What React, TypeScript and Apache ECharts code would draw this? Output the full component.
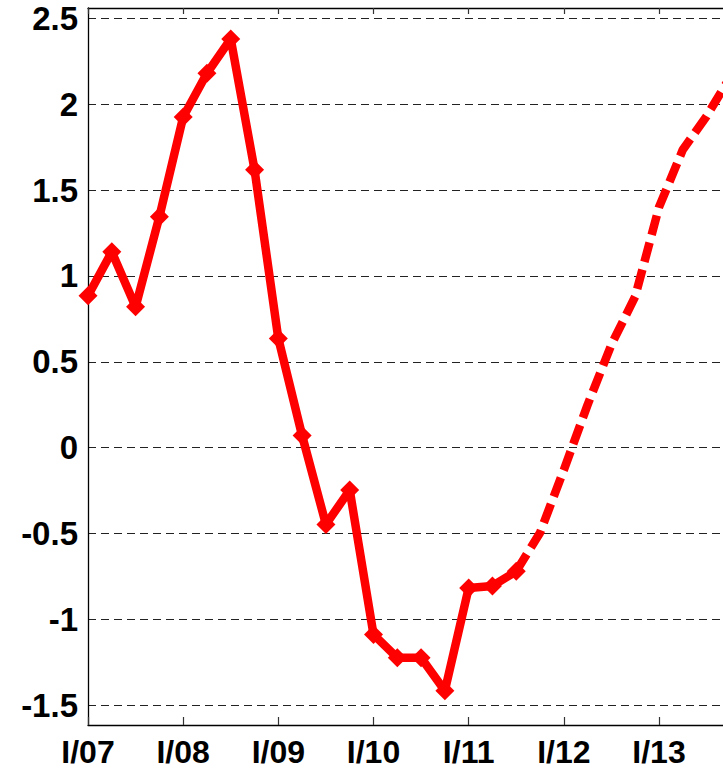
import React, { useEffect, useRef } from "react";
import * as echarts from "echarts";

// Quarters from I/07 (index 0) to IV/13 (index 27)
const quarters = [
  "2007Q1", "2007Q2", "2007Q3", "2007Q4",
  "2008Q1", "2008Q2", "2008Q3", "2008Q4",
  "2009Q1", "2009Q2", "2009Q3", "2009Q4",
  "2010Q1", "2010Q2", "2010Q3", "2010Q4",
  "2011Q1", "2011Q2", "2011Q3", "2011Q4",
  "2012Q1", "2012Q2", "2012Q3", "2012Q4",
  "2013Q1", "2013Q2", "2013Q3", "2013Q4",
];

// Actual values (solid line with markers), 2007Q1..2011Q3
const actualValues = [
  0.885, 1.14, 0.82, 1.345,
  1.925, 2.18, 2.38, 1.618,
  0.635, 0.07, -0.447, -0.247,
  -1.088, -1.223, -1.223, -1.415,
  -0.817, -0.805, -0.72,
];

// Forecast values (dashed line), 2011Q3..2013Q4
const forecastStart = 18;
const forecastValues = [
  -0.72, -0.495,
  -0.13, 0.25, 0.6, 0.88,
  1.4, 1.735, 1.93, 2.16,
];

const xTickLabels = ["I/07", "I/08", "I/09", "I/10", "I/11", "I/12", "I/13"];
const yTicks = [-1.5, -1, -0.5, 0, 0.5, 1, 1.5, 2, 2.5];

export default function App() {
  const ref = useRef<HTMLDivElement>(null);
  useEffect(() => {
    if (!ref.current) return;
    const chart = echarts.init(ref.current, null, { renderer: "svg" });
    const xTickPos = xTickLabels.map((_, i) => i * 4);
    const actualData = actualValues.map((v, i) => [i, v]);
    const forecastData = forecastValues.map((v, i) => [forecastStart + i, v]);
    const font = "'Liberation Sans', Arial, sans-serif";
    chart.setOption({
      animation: false,
      backgroundColor: "#ffffff",
      grid: { left: 88, top: 8, right: 0, bottom: 45, containLabel: false },
      xAxis: [
        {
          type: "value",
          position: "bottom",
          min: 0,
          max: 26.69,
          axisLine: { show: true, onZero: false, lineStyle: { color: "#000", width: 1.3 } },
          axisTick: {
            show: true,
            inside: true,
            length: 8,
            customValues: xTickPos,
            lineStyle: { color: "#333", width: 1.2 },
          },
          axisLabel: {
            show: true,
            customValues: xTickPos,
            formatter: (v: number) => xTickLabels[Math.round(v / 4)] ?? "",
            fontFamily: font,
            fontWeight: "bold",
            fontSize: 32,
            lineHeight: 26,
            color: "#000",
            margin: 14,
          },
          splitLine: { show: false },
        },
        {
          type: "value",
          position: "top",
          min: 0,
          max: 26.69,
          axisLine: { show: true, onZero: false, lineStyle: { color: "#000", width: 1.3 } },
          axisTick: {
            show: true,
            inside: true,
            length: 6,
            customValues: xTickPos,
            lineStyle: { color: "#333", width: 1.2 },
          },
          axisLabel: { show: false },
          splitLine: { show: false },
        },
      ],
      yAxis: {
        type: "value",
        min: -1.615,
        max: 2.56,
        axisLine: { show: true, onZero: false, lineStyle: { color: "#000", width: 1.3 } },
        axisTick: { show: false, customValues: yTicks },
        axisLabel: {
          customValues: yTicks,
          formatter: (v: number) => String(v),
          fontFamily: font,
          fontWeight: "bold",
          fontSize: 33,
          color: "#000",
          margin: 10,
        },
        splitLine: {
          show: true,
          lineStyle: { color: "#222", width: 1, type: [8, 5] },
        },
      },
      series: [
        {
          type: "line",
          data: forecastData,
          xAxisIndex: 0,
          showSymbol: false,
          symbol: "none",
          clip: true,
          lineStyle: { color: "#ff0000", width: 8.5, type: [20, 8], cap: "butt", join: "round" },
          z: 3,
        },
        {
          type: "line",
          data: actualData,
          xAxisIndex: 0,
          symbol: "diamond",
          symbolSize: 19,
          itemStyle: { color: "#ff0000" },
          lineStyle: { color: "#ff0000", width: 8.5, join: "round" },
          clip: true,
          z: 4,
        },
      ],
    });
    return () => chart.dispose();
  }, []);
  return (
    <div
      ref={ref}
      style={{ position: "fixed", left: 0, top: 0, width: 723, height: 770 }}
    />
  );
}
